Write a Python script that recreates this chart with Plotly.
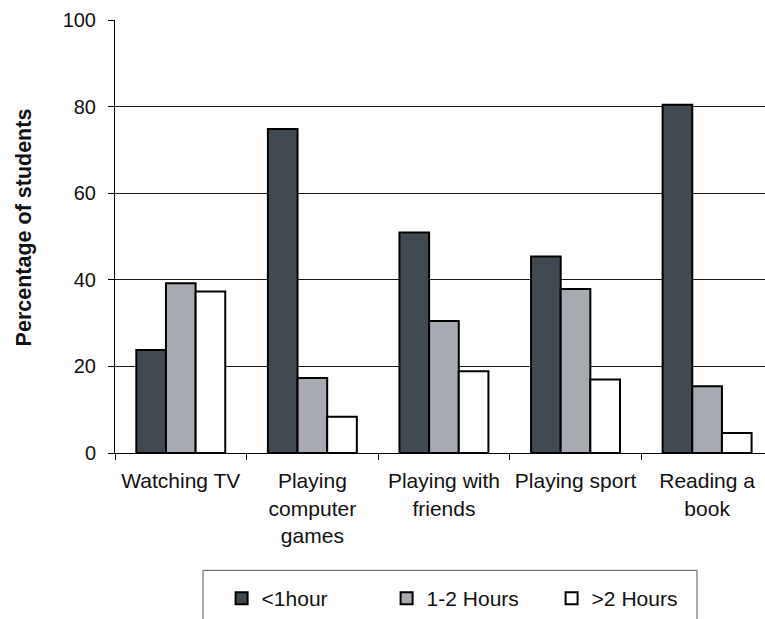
import plotly.graph_objects as go

# Time spent on each activity, percentage of students
activities = ["Watching TV", "Playing<br>computer<br>games", "Playing with<br>friends",
              "Playing sport", "Reading a<br>book"]
under_1h = [23.8, 74.8, 50.9, 45.4, 80.4]
one_to_two_h = [39.2, 17.3, 30.5, 37.9, 15.4]
over_2h = [37.3, 8.4, 18.9, 17.0, 4.6]

series = [
    ("<1hour", under_1h, "#414a50"),
    ("1-2 Hours", one_to_two_h, "#a7abb1"),
    (">2 Hours", over_2h, "#ffffff"),
]

FONT = "Liberation Sans, Arial, sans-serif"

fig = go.Figure()
for name, vals, color in series:
    fig.add_trace(go.Bar(
        x=activities, y=vals, name=name,
        marker=dict(color=color, line=dict(color="#000000", width=2)),
    ))

fig.update_layout(
    width=765, height=619,
    margin=dict(l=115, r=0, t=20, b=165),
    paper_bgcolor="white", plot_bgcolor="white",
    barmode="group", bargap=0.324, bargroupgap=0,
    font=dict(family=FONT, size=21, color="#111111"),
    showlegend=True,
    legend=dict(
        orientation="h", x=0.164, y=-0.335, xanchor="left", yanchor="middle",
        font=dict(family=FONT, size=21, color="#111111"),
        entrywidth=120, entrywidthmode="pixels",
        itemwidth=30, traceorder="normal",
        bgcolor="rgba(0,0,0,0)",
    ),
    xaxis=dict(
        type="category", range=[-0.5, 4.44],
        showline=True, linecolor="#000000", linewidth=1,
        ticks="outside", ticklen=6, tickcolor="#000000", tickson="boundaries",
        ticklabelstandoff=9,
        showgrid=False, fixedrange=True,
    ),
    yaxis=dict(
        range=[0, 100], tickvals=[0, 20, 40, 60, 80, 100],
        showline=True, linecolor="#000000", linewidth=1,
        ticks="outside", ticklen=6, tickcolor="#000000",
        ticklabelstandoff=8, tickfont=dict(size=20),
        showgrid=True, gridcolor="#1a1a1a", gridwidth=1,
        zeroline=False,
    ),
    annotations=[dict(
        text="<b>Percentage of students</b>", textangle=-90,
        xref="paper", yref="paper", x=(24 - 115) / 650, y=(454.3 - 228) / 434.3,
        xanchor="center", yanchor="middle", showarrow=False,
        font=dict(family=FONT, size=21.5, color="#111111"),
    )],
    shapes=[dict(
        type="rect", xref="paper", yref="paper",
        x0=(203 - 115) / 650, x1=(697 - 115) / 650,
        y0=(454.3 - 572) / 434.3, y1=(454.3 - 640) / 434.3,
        line=dict(color="#555555", width=1), fillcolor="rgba(0,0,0,0)",
    )],
)

fig.write_html("out.html")
